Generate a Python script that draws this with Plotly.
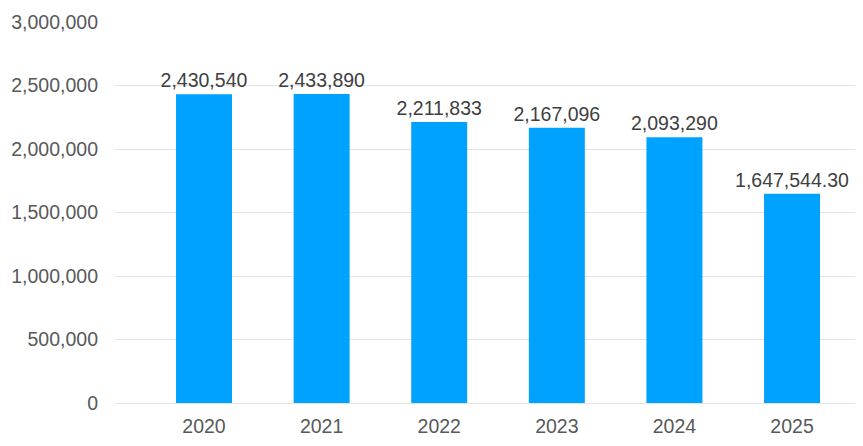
import plotly.graph_objects as go

years = ["2020", "2021", "2022", "2023", "2024", "2025"]
values = [2430540, 2433890, 2211833, 2167096, 2093290, 1647544.30]
labels = ["2,430,540", "2,433,890", "2,211,833", "2,167,096", "2,093,290", "1,647,544.30"]
y_ticks = [0, 500000, 1000000, 1500000, 2000000, 2500000, 3000000]
y_tick_text = ["0", "500,000", "1,000,000", "1,500,000", "2,000,000", "2,500,000", "3,000,000"]

FS = 19.5

fig = go.Figure(go.Bar(
    x=years, y=values, text=labels, textposition="outside", constraintext="none",
    textfont=dict(size=FS, color="#404040", family="Liberation Sans, Arial"),
    marker=dict(color="#00A2FF", line=dict(width=0)),
    width=0.476, cliponaxis=False,
))

fig.update_layout(
    width=855, height=438,
    margin=dict(l=107, r=1, t=14, b=43, autoexpand=False),
    plot_bgcolor="white", paper_bgcolor="white",
    font=dict(family="Liberation Sans, Arial", size=FS, color="#595959"),
    showlegend=False,
    uniformtext=dict(minsize=FS, mode="show"),
    xaxis=dict(type="category", range=[-0.757, 5.595], showgrid=False, showline=False,
               ticks="", automargin=False, ticklabelstandoff=9,
               tickfont=dict(size=FS, color="#595959")),
    yaxis=dict(range=[0, 3000000], tickvals=y_ticks, ticktext=y_tick_text,
               showgrid=True, gridcolor="#E3E3E3", gridwidth=1, zeroline=True,
               zerolinecolor="#E3E3E3", zerolinewidth=1, ticks="", ticklabelstandoff=16,
               automargin=False, tickfont=dict(size=FS, color="#595959")),
)

fig.write_html("out.html")
